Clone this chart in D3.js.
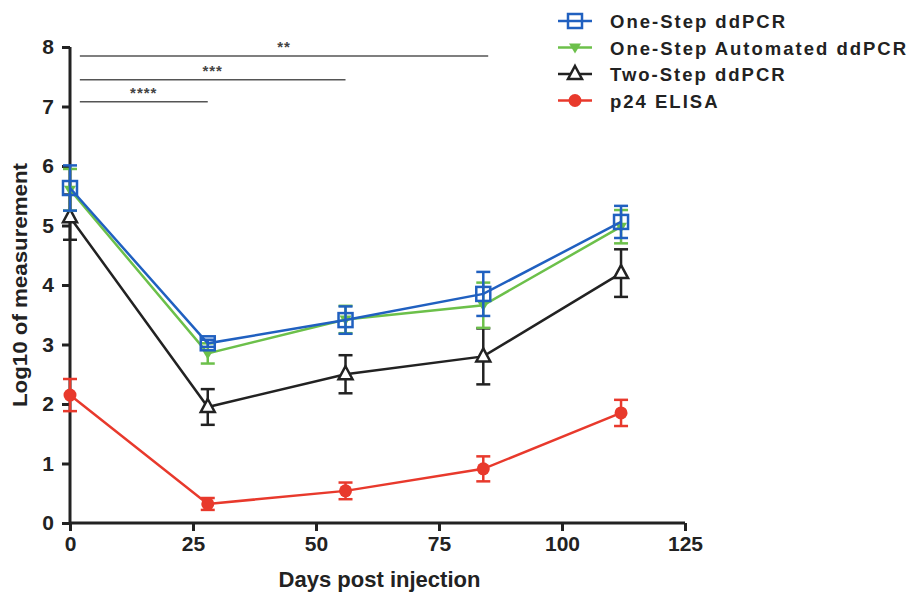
<!DOCTYPE html>
<html>
<head>
<meta charset="utf-8">
<script src="https://cdn.jsdelivr.net/npm/d3@7"></script>
<style>
  body { margin: 0; background: #fff; }
  svg text { font-family: "Liberation Sans", Arial, sans-serif; font-weight: bold; fill: #222; }
</style>
</head>
<body>
<svg id="chart" width="907" height="594"></svg>
<script>
// days post injection
var days = [0, 28, 56, 84, 112];

var seriesNames = ['One-Step ddPCR', 'One-Step Automated ddPCR', 'Two-Step ddPCR', 'p24 ELISA'];

// log10 means and error (SD)
var oneStep      = [5.63, 3.02, 3.41, 3.85, 5.06];
var oneStepErr   = [0.38, 0.06, 0.23, 0.37, 0.27];
var automated    = [5.60, 2.85, 3.42, 3.66, 4.98];
var automatedErr = [0.35, 0.17, 0.23, 0.38, 0.28];
var twoStep      = [5.14, 1.95, 2.50, 2.80, 4.20];
var twoStepErr   = [0.38, 0.30, 0.32, 0.47, 0.40];
var p24          = [2.15, 0.32, 0.54, 0.91, 1.85];
var p24Err       = [0.27, 0.10, 0.14, 0.21, 0.22];

var xTicks = [0, 25, 50, 75, 100, 125];
var yTicks = [0, 1, 2, 3, 4, 5, 6, 7, 8];

// significance brackets: [from day, to day, y level, label]
var sigFrom  = [2, 2, 2];
var sigTo    = [85, 56, 28];
var sigLevel = [7.85, 7.45, 7.08];
var sigLabel = ['**', '***', '****'];

var svg = d3.select('#chart');

var x = d3.scaleLinear().domain([0, 125]).range([70, 685]);
var y = d3.scaleLinear().domain([0, 8]).range([523, 47]);

// axes
var xAxis = svg.append('g')
  .attr('transform', 'translate(0,' + y(0) + ')')
  .call(d3.axisBottom(x).tickValues(xTicks).tickSize(8).tickPadding(5));
var yAxis = svg.append('g')
  .attr('transform', 'translate(' + x(0) + ',0)')
  .call(d3.axisLeft(y).tickValues(yTicks).tickSize(8).tickPadding(8));

[xAxis, yAxis].forEach(function(ax) {
  ax.select('.domain').attr('stroke', '#222').attr('stroke-width', 3);
  ax.selectAll('.tick line').attr('stroke', '#222').attr('stroke-width', 3);
  ax.selectAll('.tick text')
    .style('font-family', '"Liberation Sans", Arial, sans-serif')
    .style('font-size', '21px').style('font-weight', 'bold').attr('fill', '#222');
});
xAxis.select('.domain').attr('d', 'M' + x(0) + ',0H' + x(125));
yAxis.select('.domain').attr('d', 'M0,' + y(0) + 'V' + y(8));

// axis titles
svg.append('text')
  .attr('x', x(62.5) + 2).attr('y', 587)
  .attr('text-anchor', 'middle')
  .attr('textLength', 202).attr('lengthAdjust', 'spacingAndGlyphs')
  .style('font-size', '22px')
  .text('Days post injection');

svg.append('text')
  .attr('transform', 'translate(27,' + 285 + ') rotate(-90)')
  .attr('text-anchor', 'middle')
  .attr('textLength', 244).attr('lengthAdjust', 'spacingAndGlyphs')
  .style('font-size', '21px')
  .text('Log10 of measurement');

// significance lines
sigLevel.forEach(function(lv, i) {
  svg.append('line')
    .attr('x1', x(sigFrom[i])).attr('x2', x(sigTo[i]))
    .attr('y1', y(lv)).attr('y2', y(lv))
    .attr('stroke', '#555').attr('stroke-width', 1.5);
  svg.append('text')
    .attr('x', (x(sigFrom[i]) + x(sigTo[i])) / 2)
    .attr('y', y(lv) - 4)
    .attr('text-anchor', 'middle')
    .style('font-size', '15px')
    .style('letter-spacing', '1px')
    .style('fill', '#444')
    .text(sigLabel[i]);
});

var series = [
  { name: seriesNames[3], vals: p24, err: p24Err, color: '#e8392c', marker: 'circle' },
  { name: seriesNames[2], vals: twoStep, err: twoStepErr, color: '#222222', marker: 'triUp' },
  { name: seriesNames[1], vals: automated, err: automatedErr, color: '#6cc04a', marker: 'triDown' },
  { name: seriesNames[0], vals: oneStep, err: oneStepErr, color: '#2060c0', marker: 'square' }
];

function drawMarker(g, type, color) {
  if (type === 'square') {
    g.append('rect').attr('x', -7).attr('y', -7).attr('width', 14).attr('height', 14)
      .attr('fill', 'none').attr('stroke', color).attr('stroke-width', 2.5);
  } else if (type === 'triDown') {
    g.append('path').attr('d', 'M-6,-4L6,-4L0,6Z').attr('fill', color);
  } else if (type === 'triUp') {
    g.append('path').attr('d', 'M0,-8L7,5L-7,5Z')
      .attr('fill', '#fff').attr('stroke', color).attr('stroke-width', 2.5);
  } else {
    g.append('circle').attr('r', 6.5).attr('fill', color);
  }
}

var line = d3.line().x(function(d) { return x(d[0]); }).y(function(d) { return y(d[1]); });

series.forEach(function(s) {
  var g = svg.append('g');
  var pts = days.map(function(d, i) { return [d, s.vals[i], s.err[i]]; });

  g.append('path').datum(pts)
    .attr('d', line)
    .attr('fill', 'none').attr('stroke', s.color).attr('stroke-width', 2.5);

  pts.forEach(function(p) {
    var px = x(p[0]);
    var top = y(p[1] + p[2]), bot = y(p[1] - p[2]);
    g.append('line').attr('x1', px).attr('x2', px).attr('y1', top).attr('y2', bot)
      .attr('stroke', s.color).attr('stroke-width', 2.5);
    [top, bot].forEach(function(cy) {
      g.append('line').attr('x1', px - 7).attr('x2', px + 7).attr('y1', cy).attr('y2', cy)
        .attr('stroke', s.color).attr('stroke-width', 2.5);
    });
    drawMarker(g.append('g').attr('transform', 'translate(' + px + ',' + y(p[1]) + ')'), s.marker, s.color);
  });
});

// legend
var legendOrder = [series[3], series[2], series[1], series[0]];
var legend = svg.append('g').attr('transform', 'translate(558,21)');
legendOrder.forEach(function(s, i) {
  var row = legend.append('g').attr('transform', 'translate(0,' + (i * 26.5) + ')');
  row.append('line').attr('x1', 0).attr('x2', 34).attr('y1', 0).attr('y2', 0)
    .attr('stroke', s.color).attr('stroke-width', 2.5);
  drawMarker(row.append('g').attr('transform', 'translate(17,0)'), s.marker, s.color);
  row.append('text').attr('x', 52).attr('y', 7)
    .style('font-size', '18.5px').style('letter-spacing', '2px')
    .text(s.name);
});
</script>
</body>
</html>
